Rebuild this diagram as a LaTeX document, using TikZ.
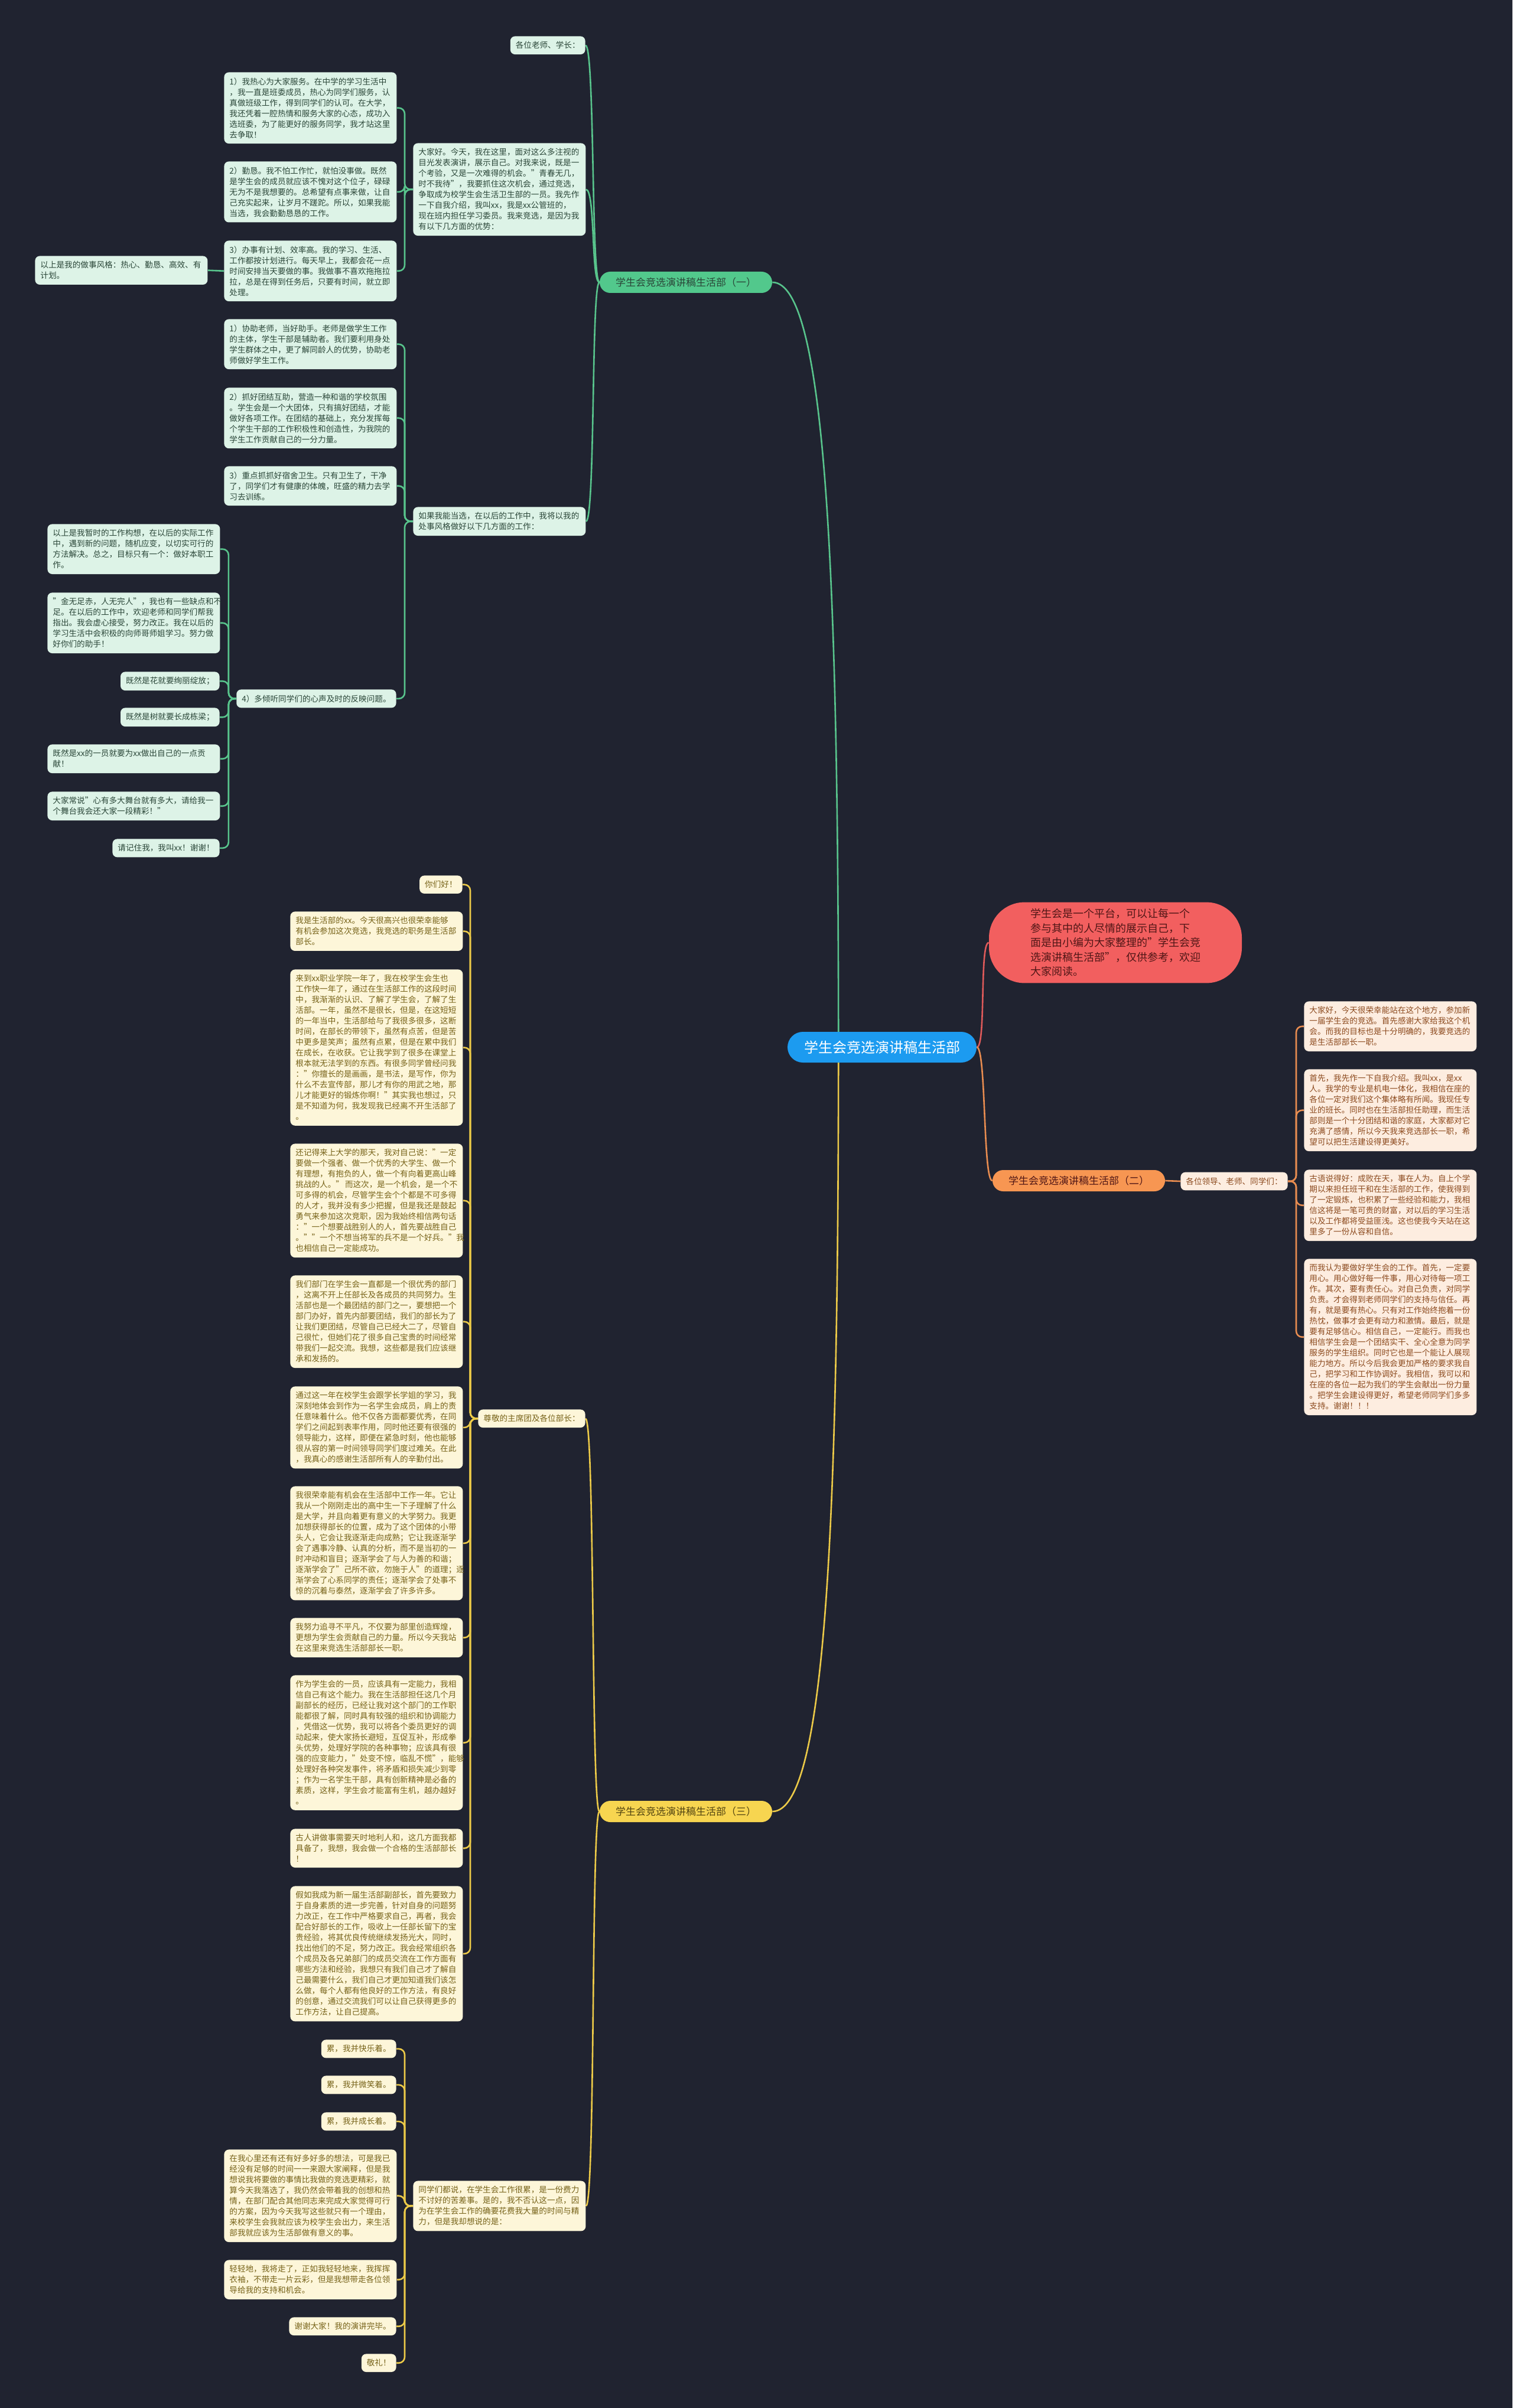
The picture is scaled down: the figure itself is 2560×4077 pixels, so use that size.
\documentclass[tikz,border=0pt]{standalone}
\usepackage{fontspec}
\setmainfont{Noto Sans CJK SC}
\usetikzlibrary{calc}
\pgfdeclarelayer{bglayer}
\pgfdeclarelayer{edges}
\pgfsetlayers{bglayer,edges,main}
\definecolor{bgc}{RGB}{32,35,48}
\definecolor{gline}{RGB}{88,196,140}
\definecolor{glab}{RGB}{82,200,140}
\definecolor{gfill}{RGB}{221,243,231}
\definecolor{gtext}{RGB}{42,70,56}
\definecolor{oline}{RGB}{232,140,80}
\definecolor{olab}{RGB}{247,150,82}
\definecolor{ofill}{RGB}{253,237,224}
\definecolor{otext}{RGB}{140,74,30}
\definecolor{yline}{RGB}{236,202,72}
\definecolor{ylab}{RGB}{247,213,80}
\definecolor{yfill}{RGB}{253,246,217}
\definecolor{ytext}{RGB}{118,98,24}
\definecolor{rfill}{RGB}{242,95,95}
\definecolor{rline}{RGB}{222,90,90}
\definecolor{rtext}{RGB}{80,22,22}
\definecolor{bfill}{RGB}{28,155,240}
\begin{document}
\begin{tikzpicture}[x=0.5pt,y=-0.5pt,
  base/.style={rounded corners=4pt, inner xsep=4.5pt, inner ysep=4.5pt,
    font=\fontsize{6.8}{9}\selectfont, align=left},
  wide/.style={text width=137pt},
  gbox/.style={base, fill=gfill, text=gtext},
  obox/.style={base, fill=ofill, text=otext},
  ybox/.style={base, fill=yfill, text=ytext},
  lab/.style={rounded corners=9pt, minimum width=146pt, minimum height=18pt,
    inner sep=2pt, font=\fontsize{8.5}{10}\selectfont},
  gconn/.style={draw=gline, line width=1.3pt},
  oconn/.style={draw=oline, line width=1.3pt},
  yconn/.style={draw=yline, line width=1.3pt},
]
\begin{pgfonlayer}{bglayer}
\fill[bgc] (0,0) rectangle (2560,4077);
\end{pgfonlayer}
\useasboundingbox (0,0) rectangle (2560,4077);

% ---------- root and red node ----------
\node[fill=bfill, text=white, rounded corners=13pt, minimum width=160pt,
  minimum height=26pt, font=\fontsize{12}{14}\selectfont] (c) at (1493,1773) {学生会竞选演讲稿生活部};
\node[fill=rfill, text=rtext, rounded corners=30pt, inner xsep=35pt, inner ysep=5.5pt,
  align=left, font=\fontsize{9}{12.25}\selectfont] (r) at (1888,1596)
  {学生会是一个平台，可以让每一个\\参与其中的人尽情的展示自己，下\\面是由小编为大家整理的"学生会竞\\选演讲稿生活部"，仅供参考，欢迎\\大家阅读。};

% ---------- branch 1 (green) ----------
\node[lab, fill=glab, text=gtext] (g0) at (1161,478) {学生会竞选演讲稿生活部（一）};
\node[gbox, anchor=north east] (g1) at (991,61) {各位老师、学长：};
\node[gbox, wide, anchor=north west] (g2) at (699,242) {大家好。今天，我在这里，面对这么多注视的\\目光发表演讲，展示自己。对我来说，既是一\\个考验，又是一次难得的机会。"青春无几，\\时不我待"，我要抓住这次机会，通过竞选，\\争取成为校学生会生活卫生部的一员。我先作\\一下自我介绍，我叫xx，我是xx公管班的，\\现在班内担任学习委员。我来竞选，是因为我\\有以下几方面的优势：};
\node[gbox, wide, anchor=north west] (g21) at (379,122) {1）我热心为大家服务。在中学的学习生活中\\，我一直是班委成员，热心为同学们服务，认\\真做班级工作，得到同学们的认可。在大学，\\我还凭着一腔热情和服务大家的心态，成功入\\选班委，为了能更好的服务同学，我才站这里\\去争取！};
\node[gbox, wide, anchor=north west] (g22) at (379,273) {2）勤恳。我不怕工作忙，就怕没事做。既然\\是学生会的成员就应该不愧对这个位子，碌碌\\无为不是我想要的。总希望有点事来做，让自\\己充实起来，让岁月不蹉跎。所以，如果我能\\当选，我会勤勤恳恳的工作。};
\node[gbox, wide, anchor=north west] (g23) at (379,407) {3）办事有计划、效率高。我的学习、生活、\\工作都按计划进行。每天早上，我都会花一点\\时间安排当天要做的事。我做事不喜欢拖拖拉\\拉，总是在得到任务后，只要有时间，就立即\\处理。};
\node[gbox, wide, anchor=north west] (g231) at (59,433) {以上是我的做事风格：热心、勤恳、高效、有\\计划。};
\node[gbox, wide, anchor=north west] (g3) at (699,858) {如果我能当选，在以后的工作中，我将以我的\\处事风格做好以下几方面的工作：};
\node[gbox, wide, anchor=north west] (g31) at (379,540) {1）协助老师，当好助手。老师是做学生工作\\的主体，学生干部是辅助者。我们要利用身处\\学生群体之中，更了解同龄人的优势，协助老\\师做好学生工作。};
\node[gbox, wide, anchor=north west] (g32) at (379,656) {2）抓好团结互助，营造一种和谐的学校氛围\\。学生会是一个大团体，只有搞好团结，才能\\做好各项工作。在团结的基础上，充分发挥每\\个学生干部的工作积极性和创造性，为我院的\\学生工作贡献自己的一分力量。};
\node[gbox, wide, anchor=north west] (g33) at (379,789) {3）重点抓抓好宿舍卫生。只有卫生了，干净\\了，同学们才有健康的体魄，旺盛的精力去学\\习去训练。};
\node[gbox, anchor=north east] (g34) at (671,1167) {4）多倾听同学们的心声及时的反映问题。};
\node[gbox, wide, anchor=north west] (g341) at (80,887) {以上是我暂时的工作构想，在以后的实际工作\\中，遇到新的问题，随机应变，以切实可行的\\方法解决。总之，目标只有一个：做好本职工\\作。};
\node[gbox, wide, anchor=north west] (g342) at (80,1003) {"金无足赤，人无完人"，我也有一些缺点和不\\足。在以后的工作中，欢迎老师和同学们帮我\\指出。我会虚心接受，努力改正。我在以后的\\学习生活中会积极的向师哥师姐学习。努力做\\好你们的助手！};
\node[gbox, anchor=north east] (g343) at (372,1137) {既然是花就要绚丽绽放；};
\node[gbox, anchor=north east] (g344) at (372,1198) {既然是树就要长成栋梁；};
\node[gbox, wide, anchor=north west] (g345) at (80,1260) {既然是xx的一员就要为xx做出自己的一点贡\\献！};
\node[gbox, wide, anchor=north west] (g346) at (80,1340) {大家常说"心有多大舞台就有多大，请给我一\\个舞台我会还大家一段精彩！"};
\node[gbox, anchor=north east] (g347) at (372,1420) {请记住我，我叫xx！谢谢！};

% ---------- branch 2 (orange) ----------
\node[lab, fill=olab, text=rtext] (o0) at (1826,1999) {学生会竞选演讲稿生活部（二）};
\node[obox, anchor=west] (o1) at (1998,2000) {各位领导、老师、同学们：};
\node[obox, wide, anchor=north west] (o11) at (2207,1695) {大家好，今天很荣幸能站在这个地方，参加新\\一届学生会的竞选。首先感谢大家给我这个机\\会。而我的目标也是十分明确的，我要竞选的\\是生活部部长一职。};
\node[obox, wide, anchor=north west] (o12) at (2207,1810) {首先，我先作一下自我介绍。我叫xx，是xx\\人。我学的专业是机电一体化，我相信在座的\\各位一定对我们这个集体略有所闻。我现任专\\业的班长。同时也在生活部担任助理，而生活\\部则是一个十分团结和谐的家庭，大家都对它\\充满了感情，所以今天我来竞选部长一职，希\\望可以把生活建设得更美好。};
\node[obox, wide, anchor=north west] (o13) at (2207,1980) {古语说得好：成败在天，事在人为。自上个学\\期以来担任班干和在生活部的工作，使我得到\\了一定锻炼，也积累了一些经验和能力，我相\\信这将是一笔可贵的财富，对以后的学习生活\\以及工作都将受益匪浅。这也使我今天站在这\\里多了一份从容和自信。};
\node[obox, wide, anchor=north west] (o14) at (2207,2131) {而我认为要做好学生会的工作。首先，一定要\\用心。用心做好每一件事，用心对待每一项工\\作。其次，要有责任心。对自己负责，对同学\\负责。才会得到老师同学们的支持与信任。再\\有，就是要有热心。只有对工作始终抱着一份\\热忱，做事才会更有动力和激情。最后，就是\\要有足够信心。相信自己，一定能行。而我也\\相信学生会是一个团结实干、全心全意为同学\\服务的学生组织。同时它也是一个能让人展现\\能力地方。所以今后我会更加严格的要求我自\\己，把学习和工作协调好。我相信，我可以和\\在座的各位一起为我们的学生会献出一份力量\\。把学生会建设得更好，希望老师同学们多多\\支持。谢谢！！！};

% ---------- branch 3 (yellow) ----------
\node[lab, fill=ylab, text=ytext!70!black] (y0) at (1161,3067) {学生会竞选演讲稿生活部（三）};
\node[ybox, anchor=north east] (y1) at (991,2386) {尊敬的主席团及各位部长：};
\node[ybox, anchor=north east] (y11) at (783,1482) {你们好！};
\node[ybox, wide, anchor=north west] (y12) at (491,1543) {我是生活部的xx。今天很高兴也很荣幸能够\\有机会参加这次竞选，我竞选的职务是生活部\\部长。};
\node[ybox, wide, anchor=north west] (y13) at (491,1641) {来到xx职业学院一年了，我在校学生会生也\\工作快一年了，通过在生活部工作的这段时间\\中，我渐渐的认识、了解了学生会，了解了生\\活部。一年，虽然不是很长，但是，在这短短\\的一年当中，生活部给与了我很多很多，这断\\时间，在部长的带领下，虽然有点苦，但是苦\\中更多是笑声；虽然有点累，但是在累中我们\\在成长，在收获。它让我学到了很多在课堂上\\根本就无法学到的东西。有很多同学曾经问我\\："你擅长的是画画，是书法，是写作，你为\\什么不去宣传部，那儿才有你的用武之地，那\\儿才能更好的锻炼你啊！"其实我也想过，只\\是不知道为何，我发现我已经离不开生活部了\\。};
\node[ybox, wide, anchor=north west] (y14) at (491,1936) {还记得来上大学的那天，我对自己说："一定\\要做一个强者、做一个优秀的大学生、做一个\\有理想，有抱负的人，做一个有向着更高山峰\\挑战的人。"\kern1pt 而这次，是一个机会，是一个不\\可多得的机会，尽管学生会个个都是不可多得\\的人才，我并没有多少把握，但是我还是鼓起\\勇气来参加这次竞职，因为我始终相信两句话\\："一个想要战胜别人的人，首先要战胜自己\\。""一个不想当将军的兵不是一个好兵。"我\\也相信自己一定能成功。};
\node[ybox, wide, anchor=north west] (y15) at (491,2159) {我们部门在学生会一直都是一个很优秀的部门\\，这离不开上任部长及各成员的共同努力。生\\活部也是一个最团结的部门之一，要想把一个\\部门办好，首先内部要团结，我们的部长为了\\让我们更团结，尽管自己已经大二了，尽管自\\己很忙，但她们花了很多自己宝贵的时间经常\\带我们一起交流。我想，这些都是我们应该继\\承和发扬的。};
\node[ybox, wide, anchor=north west] (y16) at (491,2347) {通过这一年在校学生会跟学长学姐的学习，我\\深刻地体会到作为一名学生会成员，肩上的责\\任意味着什么。他不仅各方面都要优秀，在同\\学们之间起到表率作用，同时他还要有很强的\\领导能力，这样，即便在紧急时刻，他也能够\\很从容的第一时间领导同学们度过难关。在此\\，我真心的感谢生活部所有人的辛勤付出。};
\node[ybox, wide, anchor=north west] (y17) at (491,2516) {我很荣幸能有机会在生活部中工作一年。它让\\我从一个刚刚走出的高中生一下子理解了什么\\是大学，并且向着更有意义的大学努力。我更\\加想获得部长的位置，成为了这个团体的小带\\头人，它会让我逐渐走向成熟；它让我逐渐学\\会了遇事冷静、认真的分析，而不是当初的一\\时冲动和盲目；逐渐学会了与人为善的和谐；\\逐渐学会了"己所不欲，勿施于人"的道理；逐\\渐学会了心系同学的责任；逐渐学会了处事不\\惊的沉着与泰然，逐渐学会了许多许多。};
\node[ybox, wide, anchor=north west] (y18) at (491,2739) {我努力追寻不平凡，不仅要为部里创造辉煌，\\更想为学生会贡献自己的力量。所以今天我站\\在这里来竞选生活部部长一职。};
\node[ybox, wide, anchor=north west] (y19) at (491,2836) {作为学生会的一员，应该具有一定能力，我相\\信自己有这个能力。我在生活部担任这几个月\\副部长的经历，已经让我对这个部门的工作职\\能都很了解，同时具有较强的组织和协调能力\\，凭借这一优势，我可以将各个委员更好的调\\动起来，使大家扬长避短，互促互补，形成拳\\头优势，处理好学院的各种事物；应该具有很\\强的应变能力，"处变不惊，临乱不慌"，能够\\处理好各种突发事件，将矛盾和损失减少到零\\；作为一名学生干部，具有创新精神是必备的\\素质，这样，学生会才能富有生机，越办越好\\。};
\node[ybox, wide, anchor=north west] (y1a) at (491,3096) {古人讲做事需要天时地利人和，这几方面我都\\具备了，我想，我会做一个合格的生活部部长\\！};
\node[ybox, wide, anchor=north west] (y1b) at (491,3193) {假如我成为新一届生活部副部长，首先要致力\\于自身素质的进一步完善，针对自身的问题努\\力改正，在工作中严格要求自己，再者，我会\\配合好部长的工作，吸收上一任部长留下的宝\\贵经验，将其优良传统继续发扬光大，同时，\\找出他们的不足，努力改正。我会经常组织各\\个成员及各兄弟部门的成员交流在工作方面有\\哪些方法和经验，我想只有我们自己才了解自\\己最需要什么，我们自己才更加知道我们该怎\\么做，每个人都有他良好的工作方法，有良好\\的创意，通过交流我们可以让自己获得更多的\\工作方法，让自己提高。};
\node[ybox, wide, anchor=north west] (y2) at (699,3692) {同学们都说，在学生会工作很累，是一份费力\\不讨好的苦差事。是的，我不否认这一点，因\\为在学生会工作的确要花费我大量的时间与精\\力，但是我却想说的是：};
\node[ybox, anchor=north east] (y21) at (671,3453) {累，我并快乐着。};
\node[ybox, anchor=north east] (y22) at (671,3514) {累，我并微笑着。};
\node[ybox, anchor=north east] (y23) at (671,3576) {累，我并成长着。};
\node[ybox, wide, anchor=north west] (y24) at (379,3639) {在我心里还有还有好多好多的想法，可是我已\\经没有足够的时间一一来跟大家阐释，但是我\\想说我将要做的事情比我做的竞选更精彩，就\\算今天我落选了，我仍然会带着我的创想和热\\情，在部门配合其他同志来完成大家觉得可行\\的方案，因为今天我写这些就只有一个理由，\\来校学生会我就应该为校学生会出力，来生活\\部我就应该为生活部做有意义的事。};
\node[ybox, wide, anchor=north west] (y25) at (379,3826) {轻轻地，我将走了，正如我轻轻地来，我挥挥\\衣袖，不带走一片云彩，但是我想带走各位领\\导给我的支持和机会。};
\node[ybox, anchor=north east] (y26) at (671,3923) {谢谢大家！我的演讲完毕。};
\node[ybox, anchor=north east] (y27) at (671,3985) {敬礼！};

% ---------- connectors ----------
\begin{pgfonlayer}{edges}
\coordinate (cs) at ($(c.west)!0.27!(c.east)$);
\draw[gconn] (cs) .. controls (1419,1000) and (1400,478) .. (g0.east);
\draw[yconn] (cs) .. controls (1419,2550) and (1400,3067) .. (y0.east);
\draw[draw=rline, line width=1.3pt] (c.east) .. controls +(16,0) and +(-16,0) .. (r.west);
\draw[oconn] (c.east) .. controls +(16,0) and +(-16,0) .. (o0.west);

\foreach \k in {g1,g2,g3}
  \draw[gconn] (g0.west) .. controls +(-14,0) and +(16,0) .. (\k.east);
\foreach \k in {g21,g22,g23}
  \draw[gconn, rounded corners=5pt] (g2.west) -- ++(-14,0) |- (\k.east);
\draw[gconn] (g23.west) -- (g231.east);
\foreach \k in {g31,g32,g33,g34}
  \draw[gconn, rounded corners=5pt] (g3.west) -- ++(-14,0) |- (\k.east);
\foreach \k in {g341,g342,g343,g344,g345,g346,g347}
  \draw[gconn, rounded corners=5pt] (g34.west) -- ++(-13,0) |- (\k.east);

\draw[oconn] (o0.east) -- (o1.west);
\foreach \k in {o11,o12,o13,o14}
  \draw[oconn, rounded corners=5pt] (o1.east) -- ++(14,0) |- (\k.west);

\foreach \k in {y1,y2}
  \draw[yconn] (y0.west) .. controls +(-14,0) and +(16,0) .. (\k.east);
\foreach \k in {y11,y12,y13,y14,y15,y16,y17,y18,y19,y1a,y1b}
  \draw[yconn, rounded corners=5pt] (y1.west) -- ++(-13,0) |- (\k.east);
\foreach \k in {y21,y22,y23,y24,y25,y26,y27}
  \draw[yconn, rounded corners=5pt] (y2.west) -- ++(-14,0) |- (\k.east);
\end{pgfonlayer}
\end{tikzpicture}
\end{document}
